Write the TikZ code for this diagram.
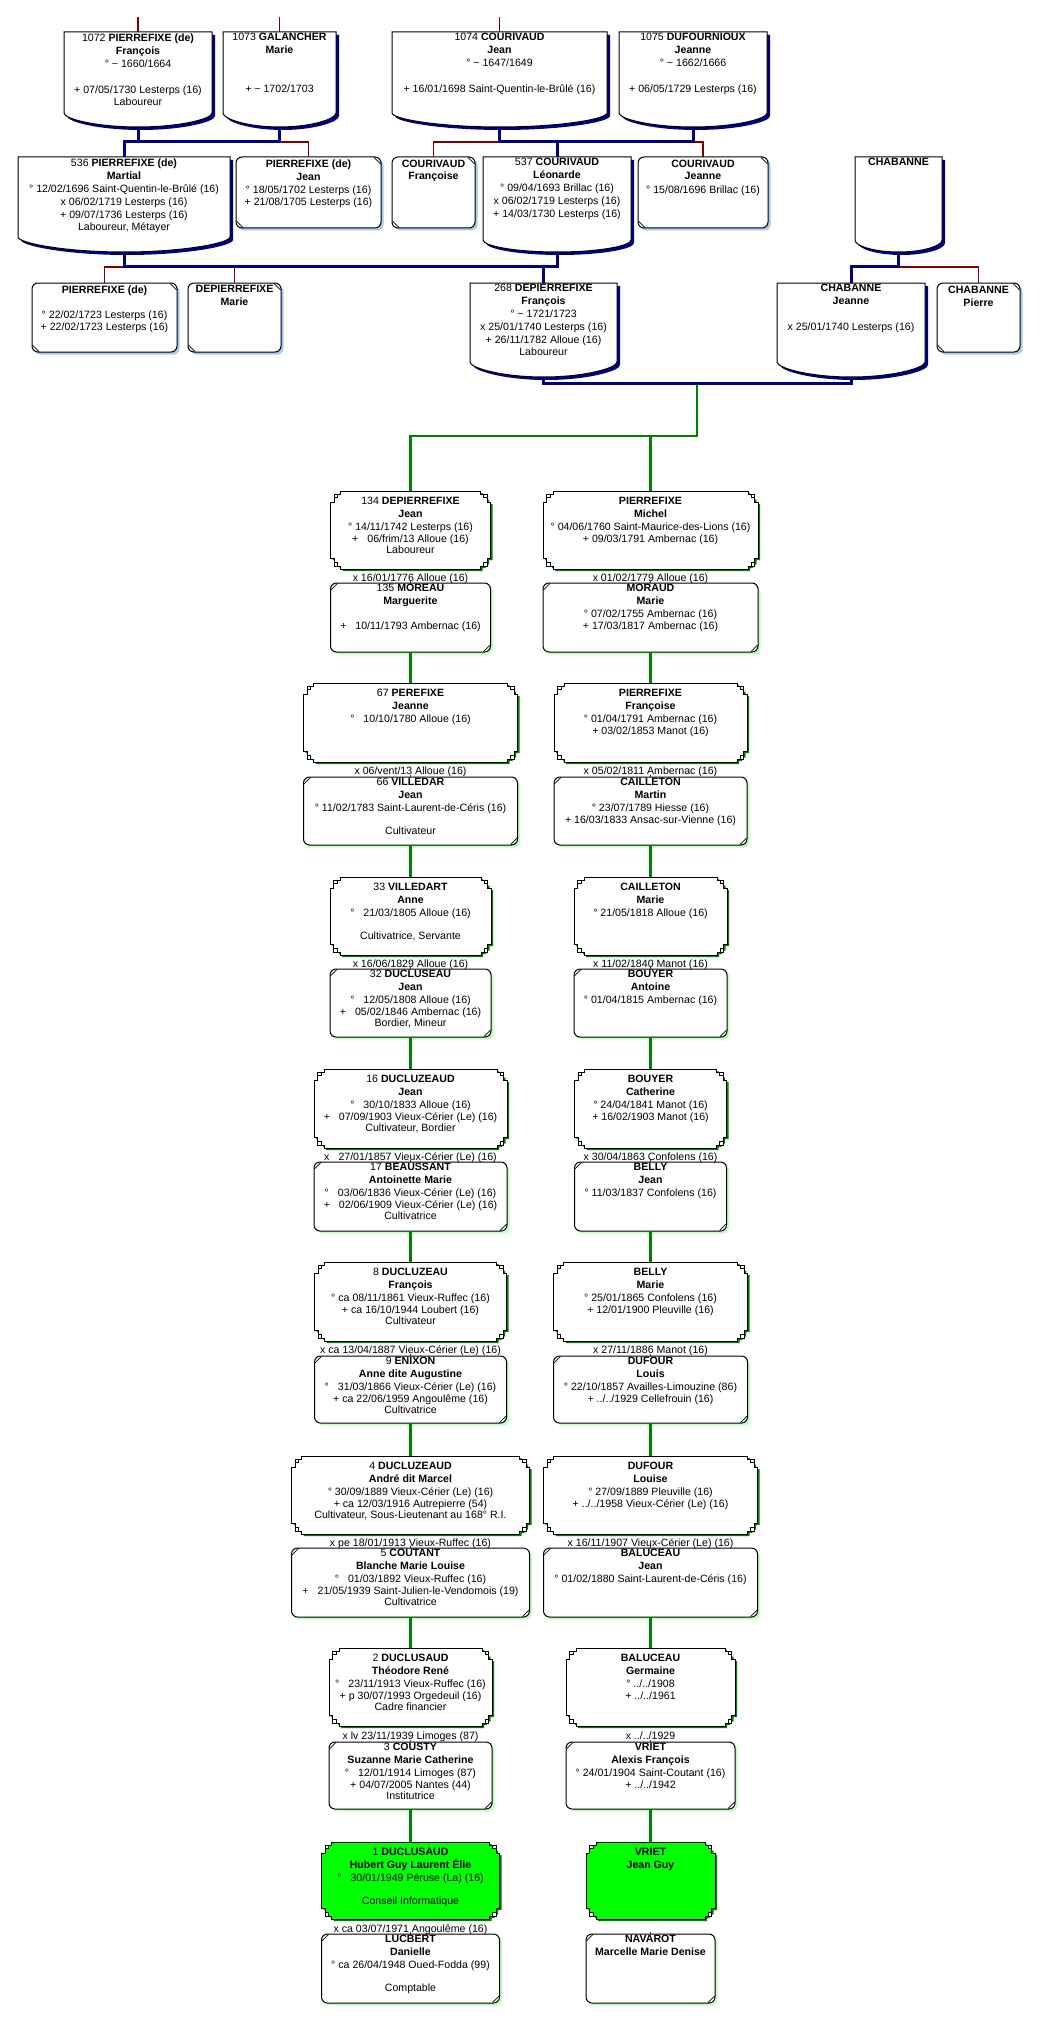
\documentclass[tikz,border=0pt]{standalone}
\usepackage{fontspec}
\setmainfont{Liberation Sans}
\definecolor{navyc}{HTML}{000080}
\definecolor{redc}{HTML}{800000}
\definecolor{greenc}{HTML}{008000}
\definecolor{bshadow}{HTML}{A6CAF0}
\definecolor{gshadow}{HTML}{C0FFC0}
\definecolor{limec}{HTML}{00FF00}
\definecolor{purpc}{HTML}{800080}
\newcommand\gapp{\hspace{9pt}}
\newcommand\Ln[2][13]{\par\baselineskip=#1pt\relax\noindent\makebox[\linewidth]{\rule[-3pt]{0pt}{10pt}#2}}
\newcommand\pc[4]{\parbox[c][#2][t]{#1}{\fontsize{10.6pt}{13pt}\selectfont\lineskiplimit=-20pt\relax\vskip\dimexpr#3pt-10pt\relax #4\par}}
\newcommand\ancshape[6]{\fill[#1] (#2,#4) -- (#3,#4) -- (#3,#5) .. controls (#3,{#5+6}) and ({#3-0.22*(#3-#2)},#6) .. ({(#2+#3)/2},#6) .. controls ({#2+0.22*(#3-#2)},#6) and (#2,{#5+6}) .. (#2,#5) -- cycle;}
\newcommand\certshape[5]{\fill[#1] ({#2+10},#4) -- ({#3-10},#4) -- ({#3-10},{#4+3}) -- ({#3-7},{#4+3}) -- ({#3-7},{#4+6.5}) -- ({#3-3.5},{#4+6.5}) -- ({#3-3.5},{#4+11}) -- (#3,{#4+11}) -- (#3,{#5-11}) -- ({#3-3.5},{#5-11}) -- ({#3-3.5},{#5-6.5}) -- ({#3-7},{#5-6.5}) -- ({#3-7},{#5-3}) -- ({#3-10},{#5-3}) -- ({#3-10},#5) -- ({#2+10},#5) -- ({#2+10},{#5-3}) -- ({#2+7},{#5-3}) -- ({#2+7},{#5-6.5}) -- ({#2+3.5},{#5-6.5}) -- ({#2+3.5},{#5-11}) -- (#2,{#5-11}) -- (#2,{#4+11}) -- ({#2+3.5},{#4+11}) -- ({#2+3.5},{#4+6.5}) -- ({#2+7},{#4+6.5}) -- ({#2+7},{#4+3}) -- ({#2+10},{#4+3}) -- cycle;}
\newcommand\csq[4]{\draw[fill=white,line width=0.7pt] ({#1+3.5},{#3+3}) rectangle ({#1+7},{#3+6.5}) ({#2-3.5},{#3+3}) rectangle ({#2-7},{#3+6.5}) ({#1+3.5},{#4-3}) rectangle ({#1+7},{#4-6.5}) ({#2-3.5},{#4-3}) rectangle ({#2-7},{#4-6.5});}
\newcommand\Anc[7]{%
 \ancshape{navyc,shift={(3,3)}}{#2}{#3}{#4}{#5}{#6}%
 \ancshape{fill=white,draw=black,line width=1pt}{#2}{#3}{#4}{#5}{#6}%
 \node[pn] (#1) at ({(#2+#3)/2},{(#4+#6)/2}) {\pc{\dimexpr#3pt-#2pt\relax}{\dimexpr#6pt-#4pt\relax}{11.5}{#7}};}
\newcommand\Sib[6]{%
 \fill[bshadow,rounded corners=6pt] ({#2+2.5},{#4+2.5}) rectangle ({#3+2.5},{#5+2.5});
 \filldraw[fill=white,draw=black,line width=1pt,rounded corners=6pt] (#2,#4) rectangle (#3,#5);
 \draw[line width=0.7pt] ({#3-7},{#4+0.4}) -- ({#3-0.4},{#4+7});
 \draw[line width=0.7pt] ({#2+0.4},{#5-7}) -- ({#2+7},{#5-0.4});
 \node[pn] (#1) at ({(#2+#3)/2},{(#4+#5)/2}) {\pc{\dimexpr#3pt-#2pt\relax}{\dimexpr#5pt-#4pt\relax}{12.6}{#6}};}
\newcommand\Wif[6]{%
 \fill[gshadow,rounded corners=6pt] ({#2+2.5},{#4+2.5}) rectangle ({#3+2.5},{#5+2.5});
 \filldraw[fill=white,draw=black,line width=1pt,rounded corners=6pt] (#2,#4) rectangle (#3,#5);
 \draw[line width=0.7pt] ({#2+0.4},{#4+7}) -- ({#2+7},{#4+0.4});
 \draw[line width=0.7pt] ({#3-7},{#5-0.4}) -- ({#3-0.4},{#5-7});
 \node[pn] (#1) at ({(#2+#3)/2},{(#4+#5)/2}) {\pc{\dimexpr#3pt-#2pt\relax}{\dimexpr#5pt-#4pt\relax}{11.3}{#6}};}
\newcommand\Hus[7][white]{%
 \certshape{greenc,shift={(2,2)}}{#3}{#4}{#5}{#6}%
 \certshape{fill=#1,draw=black,line width=1pt}{#3}{#4}{#5}{#6}%
 \csq{#3}{#4}{#5}{#6}%
 \node[pn] (#2) at ({(#3+#4)/2},{(#5+#6)/2}) {\pc{\dimexpr#4pt-#3pt\relax}{\dimexpr#6pt-#5pt\relax}{16.5}{#7}};}
\tikzset{
 pn/.style={inner sep=0pt,outer sep=0pt},
 navyl/.style={draw=navyc,line width=3pt},
 redl/.style={draw=redc,line width=1.3pt},
 greenl/.style={draw=greenc,line width=2.7pt},
 mlab/.style={inner sep=0pt,anchor=base,font=\fontsize{10.6pt}{13pt}\selectfont},
 pdot/.style={draw=purpc,line width=1pt}}
\begin{document}
\begin{tikzpicture}[x=1pt,y=-1pt]
\useasboundingbox (0,0) rectangle (1043,2036);
\fill[white] (0,0) rectangle (1043,2036);
% ---------- ancestors
\Anc{a1072}{64}{212}{32}{113}{127}{\Ln{1072 \textbf{PIERREFIXE (de)}}\Ln{\textbf{François}}\Ln{° \textasciitilde{} 1660/1664}\Ln{}\Ln{+ 07/05/1730 Lesterps (16)}\Ln[12]{Laboureur}}
\Anc{a1073}{223}{336}{32}{113}{127}{\Ln{1073 \textbf{GALANCHER}}\Ln{\textbf{Marie}}\Ln{}\Ln{}\Ln{+ \textasciitilde{} 1702/1703}}
\Anc{a1074}{392}{607}{32}{113}{127}{\Ln{1074 \textbf{COURIVAUD}}\Ln{\textbf{Jean}}\Ln{° \textasciitilde{} 1647/1649}\Ln{}\Ln{+ 16/01/1698 Saint-Quentin-le-Brûlé (16)}}
\Anc{a1075}{619}{767}{32}{113}{127}{\Ln{1075 \textbf{DUFOURNIOUX}}\Ln{\textbf{Jeanne}}\Ln{° \textasciitilde{} 1662/1666}\Ln{}\Ln{+ 06/05/1729 Lesterps (16)}}
\Anc{a536}{18}{230}{157}{237}{252}{\Ln{536 \textbf{PIERREFIXE (de)}}\Ln{\textbf{Martial}}\Ln{° 12/02/1696 Saint-Quentin-le-Brûlé (16)}\Ln{x 06/02/1719 Lesterps (16)}\Ln{+ 09/07/1736 Lesterps (16)}\Ln[12]{Laboureur, Métayer}}
\Anc{a537}{483}{631}{157}{240}{252}{\Ln{537 \textbf{COURIVAUD}}\Ln{\textbf{Léonarde}}\Ln{° 09/04/1693 Brillac (16)}\Ln{x 06/02/1719 Lesterps (16)}\Ln{+ 14/03/1730 Lesterps (16)}}
\Anc{chab}{855}{942}{157}{240}{252}{\Ln{\textbf{CHABANNE}}}
\Anc{a268}{470}{617}{283}{362}{377}{\Ln{268 \textbf{DEPIERREFIXE}}\Ln{\textbf{François}}\Ln{° \textasciitilde{} 1721/1723}\Ln{x 25/01/1740 Lesterps (16)}\Ln{+ 26/11/1782 Alloue (16)}\Ln[12]{Laboureur}}
\Anc{chabj}{777}{925}{283}{362}{377}{\Ln{\textbf{CHABANNE}}\Ln{\textbf{Jeanne}}\Ln{}\Ln{x 25/01/1740 Lesterps (16)}}
\Sib{sjean}{236}{381}{157}{228}{\Ln{\textbf{PIERREFIXE (de)}}\Ln{\textbf{Jean}}\Ln{° 18/05/1702 Lesterps (16)}\Ln[12]{+ 21/08/1705 Lesterps (16)}}
\Sib{sfranc}{392}{475}{157}{228}{\Ln{\textbf{COURIVAUD}}\Ln{\textbf{Françoise}}}
\Sib{sjeanne}{638}{768}{157}{228}{\Ln{\textbf{COURIVAUD}}\Ln{\textbf{Jeanne}}\Ln{° 15/08/1696 Brillac (16)}}
\Sib{spierre}{32}{177}{283}{352}{\Ln{\textbf{PIERREFIXE (de)}}\Ln{}\Ln[12]{° 22/02/1723 Lesterps (16)}\Ln[12]{+ 22/02/1723 Lesterps (16)}}
\Sib{smarie}{188}{281}{283}{352}{\Ln{\textbf{DEPIERREFIXE}}\Ln{\textbf{Marie}}}
\Sib{schabp}{937}{1020}{283}{352}{\Ln{\textbf{CHABANNE}}\Ln{\textbf{Pierre}}}
% ---------- G1
\Hus{h134}{330.5}{490.5}{491}{569}{\Ln{134 \textbf{DEPIERREFIXE}}\Ln{\textbf{Jean}}\Ln{° 14/11/1742 Lesterps (16)}\Ln[12]{+\gapp 06/frim/13 Alloue (16)}\Ln[11]{Laboureur}}
\Wif{w135}{330.5}{490.5}{583}{652}{\Ln{135 \textbf{MOREAU}}\Ln{\textbf{Marguerite}}\Ln{}\Ln[12]{+\gapp 10/11/1793 Ambernac (16)}}
\Hus{hmichel}{543}{758}{491}{569}{\Ln{\textbf{PIERREFIXE}}\Ln{\textbf{Michel}}\Ln{° 04/06/1760 Saint-Maurice-des-Lions (16)}\Ln[12]{+ 09/03/1791 Ambernac (16)}}
\Wif{wmarie}{543}{758}{583}{652}{\Ln{\textbf{MORAUD}}\Ln{\textbf{Marie}}\Ln{° 07/02/1755 Ambernac (16)}\Ln[12]{+ 17/03/1817 Ambernac (16)}}
% ---------- G2
\Hus{h67}{303.5}{517.5}{683}{762}{\Ln{67 \textbf{PEREFIXE}}\Ln{\textbf{Jeanne}}\Ln{°\gapp 10/10/1780 Alloue (16)}}
\Wif{w66}{303.5}{517.5}{777}{845}{\Ln{66 \textbf{VILLEDAR}}\Ln{\textbf{Jean}}\Ln{° 11/02/1783 Saint-Laurent-de-Céris (16)}\Ln[12]{}\Ln[11]{Cultivateur}}
\Hus{hfranc}{554}{747}{683}{762}{\Ln{\textbf{PIERREFIXE}}\Ln{\textbf{Françoise}}\Ln{° 01/04/1791 Ambernac (16)}\Ln[12]{+ 03/02/1853 Manot (16)}}
\Wif{wmartin}{554}{747}{777}{845}{\Ln{\textbf{CAILLETON}}\Ln{\textbf{Martin}}\Ln{° 23/07/1789 Hiesse (16)}\Ln[12]{+ 16/03/1833 Ansac-sur-Vienne (16)}}
% ---------- G3
\Hus{h33}{330}{491}{877}{955}{\Ln{33 \textbf{VILLEDART}}\Ln{\textbf{Anne}}\Ln{°\gapp 21/03/1805 Alloue (16)}\Ln[12]{}\Ln[11]{Cultivatrice, Servante}}
\Wif{w32}{330}{491}{969}{1037}{\Ln{32 \textbf{DUCLUSEAU}}\Ln{\textbf{Jean}}\Ln{°\gapp 12/05/1808 Alloue (16)}\Ln[12]{+\gapp 05/02/1846 Ambernac (16)}\Ln[11]{Bordier, Mineur}}
\Hus{hcmarie}{574}{727}{877}{955}{\Ln{\textbf{CAILLETON}}\Ln{\textbf{Marie}}\Ln{° 21/05/1818 Alloue (16)}}
\Wif{wantoine}{574}{727}{969}{1037}{\Ln{\textbf{BOUYER}}\Ln{\textbf{Antoine}}\Ln{° 01/04/1815 Ambernac (16)}}
% ---------- G4
\Hus{h16}{314}{507}{1069}{1148}{\Ln{16 \textbf{DUCLUZEAUD}}\Ln{\textbf{Jean}}\Ln{°\gapp 30/10/1833 Alloue (16)}\Ln[12]{+\gapp 07/09/1903 Vieux-Cérier (Le) (16)}\Ln[11]{Cultivateur, Bordier}}
\Wif{w17}{314}{507}{1162}{1231}{\Ln{17 \textbf{BEAUSSANT}}\Ln{\textbf{Antoinette Marie}}\Ln{°\gapp 03/06/1836 Vieux-Cérier (Le) (16)}\Ln[12]{+\gapp 02/06/1909 Vieux-Cérier (Le) (16)}\Ln[11]{Cultivatrice}}
\Hus{hcath}{574.5}{726.5}{1069}{1148}{\Ln{\textbf{BOUYER}}\Ln{\textbf{Catherine}}\Ln{° 24/04/1841 Manot (16)}\Ln[12]{+ 16/02/1903 Manot (16)}}
\Wif{wbjean}{574.5}{726.5}{1162}{1231}{\Ln{\textbf{BELLY}}\Ln{\textbf{Jean}}\Ln{° 11/03/1837 Confolens (16)}}
% ---------- G5
\Hus{h8}{314.5}{506.5}{1262}{1341}{\Ln{8 \textbf{DUCLUZEAU}}\Ln{\textbf{François}}\Ln{° ca 08/11/1861 Vieux-Ruffec (16)}\Ln[12]{+ ca 16/10/1944 Loubert (16)}\Ln[11]{Cultivateur}}
\Wif{w9}{314.5}{506.5}{1356}{1423}{\Ln{9 \textbf{ENIXON}}\Ln{\textbf{Anne dite Augustine}}\Ln{°\gapp 31/03/1866 Vieux-Cérier (Le) (16)}\Ln[12]{+ ca 22/06/1959 Angoulême (16)}\Ln[11]{Cultivatrice}}
\Hus{hbmarie}{553.5}{747.5}{1262}{1341}{\Ln{\textbf{BELLY}}\Ln{\textbf{Marie}}\Ln{° 25/01/1865 Confolens (16)}\Ln[12]{+ 12/01/1900 Pleuville (16)}}
\Wif{wlouis}{553.5}{747.5}{1356}{1423}{\Ln{\textbf{DUFOUR}}\Ln{\textbf{Louis}}\Ln{° 22/10/1857 Availles-Limouzine (86)}\Ln[12]{+ ../../1929 Cellefrouin (16)}}
% ---------- G6
\Hus{h4}{291.5}{529.5}{1456}{1534}{\Ln{4 \textbf{DUCLUZEAUD}}\Ln{\textbf{André dit Marcel}}\Ln{° 30/09/1889 Vieux-Cérier (Le) (16)}\Ln[12]{+ ca 12/03/1916 Autrepierre (54)}\Ln[11]{Cultivateur, Sous-Lieutenant au 168° R.I.}}
\Wif{w5}{291.5}{529.5}{1548}{1617}{\Ln{5 \textbf{COUTANT}}\Ln{\textbf{Blanche Marie Louise}}\Ln{°\gapp 01/03/1892 Vieux-Ruffec (16)}\Ln[12]{+\gapp 21/05/1939 Saint-Julien-le-Vendomois (19)}\Ln[11]{Cultivatrice}}
\Hus{hlouise}{543.5}{757.5}{1456}{1534}{\Ln{\textbf{DUFOUR}}\Ln{\textbf{Louise}}\Ln{° 27/09/1889 Pleuville (16)}\Ln[12]{+ ../../1958 Vieux-Cérier (Le) (16)}}
\Wif{wbjean2}{543.5}{757.5}{1548}{1617}{\Ln{\textbf{BALUCEAU}}\Ln{\textbf{Jean}}\Ln{° 01/02/1880 Saint-Laurent-de-Céris (16)}}
% ---------- G7
\Hus{h2}{329}{492}{1648}{1726}{\Ln{2 \textbf{DUCLUSAUD}}\Ln{\textbf{Théodore René}}\Ln{°\gapp 23/11/1913 Vieux-Ruffec (16)}\Ln[12]{+ p 30/07/1993 Orgedeuil (16)}\Ln[11]{Cadre financier}}
\Wif{w3}{329}{492}{1742}{1809}{\Ln{3 \textbf{COUSTY}}\Ln{\textbf{Suzanne Marie Catherine}}\Ln{°\gapp 12/01/1914 Limoges (87)}\Ln[12]{+ 04/07/2005 Nantes (44)}\Ln[11]{Institutrice}}
\Hus{hgerm}{566}{735}{1648}{1726}{\Ln{\textbf{BALUCEAU}}\Ln{\textbf{Germaine}}\Ln{° ../../1908}\Ln[12]{+ ../../1961}}
\Wif{walexis}{566}{735}{1742}{1809}{\Ln{\textbf{VRIET}}\Ln{\textbf{Alexis François}}\Ln{° 24/01/1904 Saint-Coutant (16)}\Ln[12]{+ ../../1942}}
% ---------- G8
\Hus[limec]{h1}{321.5}{499.5}{1842}{1919}{\Ln{1 \textbf{DUCLUSAUD}}\Ln{\textbf{Hubert Guy Laurent Élie}}\Ln{°\gapp 30/01/1949 Péruse (La) (16)}\Ln[12]{}\Ln[11]{Conseil Informatique}}
\Wif{wlucb}{321.5}{499.5}{1934}{2003}{\Ln{\textbf{LUCBERT}}\Ln{\textbf{Danielle}}\Ln{° ca 26/04/1948 Oued-Fodda (99)}\Ln[12]{}\Ln[11]{Comptable}}
\Hus[limec]{hvriet}{586}{715}{1842}{1919}{\Ln{\textbf{VRIET}}\Ln{\textbf{Jean Guy}}}
\Wif{wnav}{586}{715}{1934}{2003}{\Ln{\textbf{NAVAROT}}\Ln{\textbf{Marcelle Marie Denise}}}
% ---------- marriage labels
\node[mlab] (ml1) at (410.5,581) {x 16/01/1776 Alloue (16)};
\node[mlab] (ml2) at (410.5,774) {x 06/vent/13 Alloue (16)};
\node[mlab] (ml3) at (410.5,967) {x 16/06/1829 Alloue (16)};
\node[mlab] (ml4) at (410.5,1160) {x\gapp 27/01/1857 Vieux-Cérier (Le) (16)};
\node[mlab] (ml5) at (410.5,1353) {x ca 13/04/1887 Vieux-Cérier (Le) (16)};
\node[mlab] (ml6) at (410.5,1546) {x pe 18/01/1913 Vieux-Ruffec (16)};
\node[mlab] (ml7) at (410.5,1739) {x lv 23/11/1939 Limoges (87)};
\node[mlab] (ml8) at (410.5,1932) {x ca 03/07/1971 Angoulême (16)};
\node[mlab] (mr1) at (650.5,581) {x 01/02/1779 Alloue (16)};
\node[mlab] (mr2) at (650.5,774) {x 05/02/1811 Ambernac (16)};
\node[mlab] (mr3) at (650.5,967) {x 11/02/1840 Manot (16)};
\node[mlab] (mr4) at (650.5,1160) {x 30/04/1863 Confolens (16)};
\node[mlab] (mr5) at (650.5,1353) {x 27/11/1886 Manot (16)};
\node[mlab] (mr6) at (650.5,1546) {x 16/11/1907 Vieux-Cérier (Le) (16)};
\node[mlab] (mr7) at (650.5,1739) {x ../../1929};
% ---------- connectors
\coordinate (r1072) at (138,17);
\coordinate (r1073) at (279.5,17);
\coordinate (r1074) at (499.5,17);
\draw[redl] (a1072.north) -- (r1072);
\draw[redl] (a1073.north) -- (r1073);
\draw[redl] (a1074.north) -- (r1074);
\draw[redl] (a1073.south) ++(0,15) -| (sjean.north);
\draw[redl] (a1074.south) ++(0,15) -| (sfranc.north);
\draw[redl] (a1075.south) ++(0,15) -| (sjeanne.north);
\draw[redl] (a536.south) ++(0,15) -| (spierre.north);
\draw[redl] (smarie.north) -- ++(0,-16);
\draw[redl] (chab.south) ++(0,15) -| (schabp.north);
\coordinate (gstem) at (697,383);
\coordinate (gbus) at (697,436);
\draw[greenl] (gstem) -- (gbus) -| (h134.north);
\draw[greenl] (gbus) -| (hmichel.north);
\draw[navyl] (a1072.south) -- ++(0,15);
\draw[navyl] (a1073.south) -- ++(0,15) -| (a536.north);
\draw[navyl] (a1074.south) -- ++(0,15) -| (a537.north);
\draw[navyl] (a1075.south) -- ++(0,15) -| (a537.north);
\draw[navyl] (a536.south) -- ++(0,15) -| (a268.north);
\draw[navyl] (a537.south) -- ++(0,15) -| (a268.north);
\draw[navyl] (chab.south) -- ++(0,15) -| (chabj.north);
\draw[navyl] (a268.south) -- ++(0,6) -| (chabj.south);
\foreach \a/\b in {w135/h67,wmarie/hfranc,w66/h33,wmartin/hcmarie,w32/h16,wantoine/hcath,w17/h8,wbjean/hbmarie,w9/h4,wlouis/hlouise,w5/h2,wbjean2/hgerm,w3/h1,walexis/hvriet}
  \draw[greenl] (\a.south) -- (\b.north);
\foreach \w in {w135,wmarie,w66,wmartin,w32,wantoine,w17,wbjean,w9,wlouis,w5,wbjean2,w3,walexis,wlucb,wnav}
  \draw[pdot] (\w.north) -- ++(0,-2.5);
\end{tikzpicture}
\end{document}
